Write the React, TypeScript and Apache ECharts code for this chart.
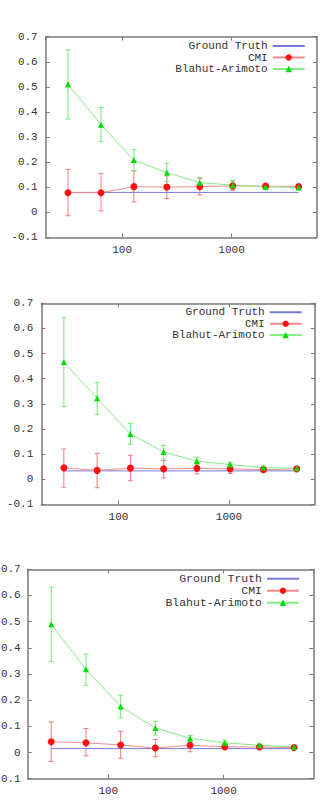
import React, { useEffect, useRef } from 'react';
import * as echarts from 'echarts';

// ---------------- data ----------------
const sampleSizes = [32, 64, 128, 256, 512, 1024, 2048, 4096];
const seriesNames = ['Ground Truth', 'CMI', 'Blahut-Arimoto'];

// Panel 1
const p1GroundTruth = 0.079;
const p1CmiMean = [0.078, 0.078, 0.102, 0.1, 0.102, 0.105, 0.104, 0.102];
const p1CmiLow = [-0.014, 0.005, 0.041, 0.055, 0.069, 0.086, 0.096, 0.096];
const p1CmiHigh = [0.171, 0.155, 0.165, 0.145, 0.135, 0.124, 0.112, 0.108];
const p1BaMean = [0.51, 0.349, 0.208, 0.158, 0.118, 0.108, 0.101, 0.099];
const p1BaLow = [0.372, 0.281, 0.165, 0.122, 0.098, 0.09, 0.093, 0.094];
const p1BaHigh = [0.647, 0.418, 0.251, 0.195, 0.139, 0.127, 0.109, 0.104];

// Panel 2
const p2GroundTruth = 0.033;
const p2CmiMean = [0.045, 0.035, 0.044, 0.041, 0.043, 0.041, 0.038, 0.041];
const p2CmiLow = [-0.032, -0.034, -0.006, 0.005, 0.021, 0.023, 0.03, 0.036];
const p2CmiHigh = [0.12, 0.103, 0.095, 0.074, 0.065, 0.06, 0.046, 0.046];
const p2BaMean = [0.466, 0.322, 0.18, 0.108, 0.072, 0.058, 0.046, 0.043];
const p2BaLow = [0.289, 0.258, 0.139, 0.08, 0.058, 0.05, 0.04, 0.039];
const p2BaHigh = [0.643, 0.384, 0.222, 0.135, 0.087, 0.067, 0.052, 0.047];

// Panel 3
const p3GroundTruth = 0.015;
const p3CmiMean = [0.041, 0.037, 0.029, 0.017, 0.028, 0.022, 0.021, 0.019];
const p3CmiLow = [-0.034, -0.013, -0.022, -0.016, 0.003, 0.01, 0.015, 0.015];
const p3CmiHigh = [0.117, 0.092, 0.081, 0.05, 0.048, 0.034, 0.027, 0.023];
const p3BaMean = [0.49, 0.318, 0.176, 0.094, 0.054, 0.037, 0.028, 0.021];
const p3BaLow = [0.347, 0.257, 0.133, 0.067, 0.043, 0.028, 0.023, 0.018];
const p3BaHigh = [0.632, 0.376, 0.219, 0.119, 0.065, 0.047, 0.033, 0.024];

const panelData = [
  { gt: p1GroundTruth, cmi: [p1CmiMean, p1CmiLow, p1CmiHigh], ba: [p1BaMean, p1BaLow, p1BaHigh] },
  { gt: p2GroundTruth, cmi: [p2CmiMean, p2CmiLow, p2CmiHigh], ba: [p2BaMean, p2BaLow, p2BaHigh] },
  { gt: p3GroundTruth, cmi: [p3CmiMean, p3CmiLow, p3CmiHigh], ba: [p3BaMean, p3BaLow, p3BaHigh] },
];

// ---------------- layout / style ----------------
const layouts = [
  { left: 45.7, top: 36.7, width: 271, height: 200.6, legendRight: 16.3, legendTop: 40.3, axisFont: 11, legendFont: 11, yMargin: 8, rowH: 11.5 },
  { left: 41.3, top: 303.3, width: 273.7, height: 201, legendRight: 19.3, legendTop: 306.6, axisFont: 11, legendFont: 11, yMargin: 8, rowH: 11.4 },
  { left: 27.7, top: 569.3, width: 285.6, height: 209.4, legendRight: 22, legendTop: 572.7, axisFont: 11, legendFont: 11.5, yMargin: 7, rowH: 12 },
];

const FONT = 'Liberation Mono';
const TEXT = '#333333';
const BORDER = '#7a7a7a';
const GT_COLOR = '#7878d8';
const CMI_LINE = '#f08c8c';
const CMI_MARK = '#ff1010';
const CMI_ERR = '#f07c7c';
const BA_LINE = '#84ec84';
const BA_MARK = '#00dd00';
const BA_ERR = '#74e874';

function errorBars(axisIdx: number, color: string, lows: number[], highs: number[]) {
  return {
    type: 'custom',
    name: 'err',
    xAxisIndex: axisIdx,
    yAxisIndex: axisIdx,
    silent: true,
    encode: { x: 0, y: [1, 2] },
    data: sampleSizes.map((s, i) => [s, lows[i], highs[i]]),
    renderItem: (params: any, api: any) => {
      const x = api.value(0);
      const lo = api.coord([x, api.value(1)]);
      const hi = api.coord([x, api.value(2)]);
      const w = 2.5;
      const style = { stroke: color, lineWidth: 1 };
      return {
        type: 'group',
        children: [
          { type: 'line', shape: { x1: lo[0], y1: lo[1], x2: hi[0], y2: hi[1] }, style },
          { type: 'line', shape: { x1: lo[0] - w, y1: lo[1], x2: lo[0] + w, y2: lo[1] }, style },
          { type: 'line', shape: { x1: hi[0] - w, y1: hi[1], x2: hi[0] + w, y2: hi[1] }, style },
        ],
      };
    },
  };
}

function xAxisDef(p: number, pos: string, L: any) {
  return {
    type: 'log',
    logBase: 10,
    gridIndex: p,
    position: pos,
    min: 20,
    max: 6000,
    splitLine: { show: false },
    axisLine: { show: true, onZero: false, lineStyle: { color: BORDER, width: 1.5 } },
    axisTick: { show: true, inside: true, length: 4, lineStyle: { color: BORDER, width: 1 } },
    axisLabel:
      pos === 'bottom'
        ? {
            show: true,
            showMinLabel: false,
            showMaxLabel: false,
            margin: 7,
            color: TEXT,
            fontFamily: FONT,
            fontSize: L.axisFont,
            formatter: (v: number) => String(Math.round(v)),
          }
        : { show: false },
  };
}

function yAxisDef(p: number, pos: string, L: any) {
  return {
    type: 'value',
    gridIndex: p,
    position: pos,
    min: -0.1,
    max: 0.7,
    interval: 0.1,
    splitLine: { show: false },
    axisLine: { show: true, onZero: false, lineStyle: { color: BORDER, width: 1.5 } },
    axisTick: { show: true, inside: true, length: 4, lineStyle: { color: BORDER, width: 1 } },
    axisLabel:
      pos === 'left'
        ? {
            show: true,
            margin: L.yMargin,
            color: TEXT,
            fontFamily: FONT,
            fontSize: L.axisFont,
            formatter: (v: number) => String(Math.round(v * 10) / 10),
          }
        : { show: false },
  };
}

function buildOption() {
  const grid: any[] = [];
  const xAxis: any[] = [];
  const yAxis: any[] = [];
  const legend: any[] = [];
  const series: any[] = [];

  layouts.forEach((L, p) => {
    grid.push({
      left: L.left,
      top: L.top,
      width: L.width,
      height: L.height,
      containLabel: false,
      outerBoundsMode: 'none',
    });
    xAxis.push(xAxisDef(p, 'bottom', L));
    xAxis.push(xAxisDef(p, 'top', L));
    yAxis.push(yAxisDef(p, 'left', L));
    yAxis.push(yAxisDef(p, 'right', L));

    legend.push({
      orient: 'vertical',
      align: 'right',
      right: L.legendRight,
      top: L.legendTop,
      padding: 0,
      itemGap: 0,
      itemWidth: 32,
      itemHeight: 8,
      selectedMode: false,
      data: seriesNames,
      textStyle: { fontFamily: FONT, fontSize: L.legendFont, color: TEXT, lineHeight: L.rowH },
    });

    const d = panelData[p];
    const xi = p * 2;
    const yi = p * 2;
    series.push({
      type: 'line',
      name: seriesNames[0],
      xAxisIndex: xi,
      yAxisIndex: yi,
      data: sampleSizes.map((s) => [s, d.gt]),
      symbol: 'circle',
      showSymbol: false,
      itemStyle: { color: 'rgba(0,0,0,0)' },
      lineStyle: { color: GT_COLOR, width: 1 },
      silent: true,
    });
    series.push(errorBars(xi, CMI_ERR, d.cmi[1], d.cmi[2]));
    series.push({
      type: 'line',
      name: seriesNames[1],
      xAxisIndex: xi,
      yAxisIndex: yi,
      data: sampleSizes.map((s, i) => [s, d.cmi[0][i]]),
      symbol: 'circle',
      symbolSize: 7,
      itemStyle: { color: CMI_MARK },
      lineStyle: { color: CMI_LINE, width: 1 },
      silent: true,
    });
    series.push(errorBars(xi, BA_ERR, d.ba[1], d.ba[2]));
    series.push({
      type: 'line',
      name: seriesNames[2],
      xAxisIndex: xi,
      yAxisIndex: yi,
      data: sampleSizes.map((s, i) => [s, d.ba[0][i]]),
      symbol: 'triangle',
      symbolSize: 6,
      itemStyle: { color: BA_MARK },
      lineStyle: { color: BA_LINE, width: 1 },
      silent: true,
    });
  });

  return {
    animation: false,
    backgroundColor: '#ffffff',
    grid,
    xAxis,
    yAxis,
    legend,
    series,
  };
}

export default function App() {
  const ref = useRef<HTMLDivElement>(null);
  useEffect(() => {
    if (!ref.current) return;
    const chart = echarts.init(ref.current, null, { renderer: 'svg' });
    chart.setOption(buildOption() as any);
    return () => chart.dispose();
  }, []);
  return (
    <div
      ref={ref}
      style={{ position: 'absolute', left: 0, top: 0, width: 322, height: 806, background: '#fff' }}
    />
  );
}
